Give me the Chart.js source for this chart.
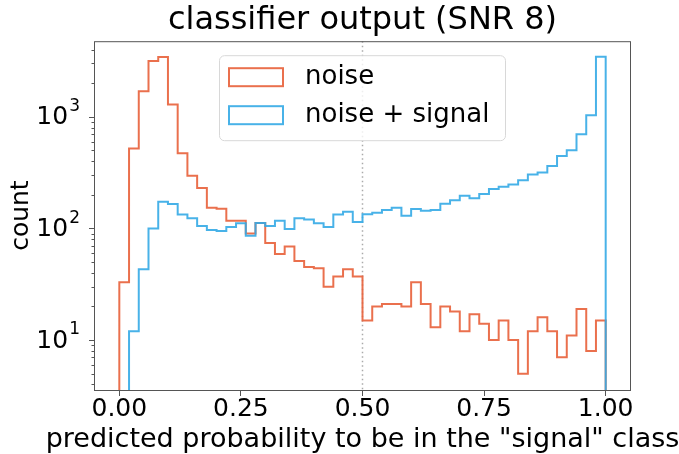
<!DOCTYPE html>
<html>
<head>
<meta charset="utf-8">
<title>classifier output (SNR 8)</title>
<script src="https://cdn.jsdelivr.net/npm/chart.js@4.4.1/dist/chart.umd.min.js"></script>
<style>
  body { margin: 0; background: #fff; }
  canvas { display: block; }
</style>
</head>
<body>
<canvas id="histChart" width="679" height="454"></canvas>
<script>
// bin edges of the histogram (50 bins)
const binEdges = [
    0.00, 0.02, 0.04, 0.06, 0.08, 0.10, 0.12, 0.14, 0.16, 0.18,
    0.20, 0.22, 0.24, 0.26, 0.28, 0.30, 0.32, 0.34, 0.36, 0.38,
    0.40, 0.42, 0.44, 0.46, 0.48, 0.50, 0.52, 0.54, 0.56, 0.58,
    0.60, 0.62, 0.64, 0.66, 0.68, 0.70, 0.72, 0.74, 0.76, 0.78,
    0.80, 0.82, 0.84, 0.86, 0.88, 0.90, 0.92, 0.94, 0.96, 0.98,
    1.00
];

// counts per bin
const noiseCounts = [
    33, 520, 1690, 3160, 3430, 1290, 470, 296, 230, 153,
    150, 117, 117, 90, 112, 74, 59, 69, 51, 45,
    44, 30, 37, 43, 37, 15, 20, 21, 21, 20,
    33, 21, 13, 20, 18, 12, 17, 14, 10, 15,
    10, 5, 12, 16, 12, 7, 11, 19, 8, 15
];
const signalCounts = [
    0, 12, 43, 100, 173, 165, 133, 123, 105, 97,
    95, 103, 111, 86, 112, 105, 117, 99, 123, 120,
    111, 103, 133, 141, 114, 134, 138, 146, 153, 130,
    149, 144, 146, 166, 179, 196, 186, 203, 225, 236,
    247, 270, 304, 317, 363, 446, 502, 698, 1033, 3450
];

const seriesLabels = ['noise', 'noise + signal'];
const xTicks = [0, 0.25, 0.5, 0.75, 1.0];
const yMajorTicks = [10, 100, 1000];
const thresholdX = 0.5;
const xLabel = 'predicted probability to be in the "signal" class';

const FLOOR = 1; // below the axis, used for the step outline's ends
const FONT = 'DejaVu Sans';
const ORANGE = 'rgba(232, 96, 58, 0.9)';
const BLUE = 'rgba(52, 170, 230, 0.9)';

// outline of a step histogram: up at the first edge, across each bin, down at the last edge
function stepPoints(counts) {
    const pts = [{ x: binEdges[0], y: FLOOR }];
    counts.forEach((c, i) => pts.push({ x: binEdges[i], y: c > 0 ? c : FLOOR }));
    pts.push({ x: binEdges[binEdges.length - 1], y: FLOOR });
    return pts;
}

const decorPlugin = {
    id: 'decor',
    beforeDatasetsDraw(chart) {
        const { ctx, chartArea: ca, scales: { x } } = chart;
        const px = x.getPixelForValue(thresholdX);
        ctx.save();
        ctx.strokeStyle = '#aaaaaa';
        ctx.lineWidth = 1.5;
        ctx.setLineDash([1.5, 3]);
        ctx.beginPath();
        ctx.moveTo(px, ca.top);
        ctx.lineTo(px, ca.bottom);
        ctx.stroke();
        ctx.restore();
    },
    afterDatasetsDraw(chart) {
        const { ctx, chartArea: ca, scales: { y } } = chart;
        ctx.save();

        // spines
        ctx.strokeStyle = '#555';
        ctx.lineWidth = 1;
        ctx.strokeRect(ca.left - 0.5, ca.top + 0.5, ca.right - ca.left + 1, ca.bottom - ca.top);

        // y tick marks (major + minor) and labels
        for (let e = 0; e <= 3; e++) {
            for (let m = 1; m <= 9; m++) {
                const v = m * Math.pow(10, e);
                if (v < y.min || v > y.max) continue;
                const py = Math.round(y.getPixelForValue(v)) + 0.5;
                const len = m === 1 ? 6 : 3.5;
                ctx.beginPath();
                ctx.moveTo(ca.left - len, py);
                ctx.lineTo(ca.left, py);
                ctx.stroke();
            }
        }
        ctx.fillStyle = '#000';
        ctx.textBaseline = 'middle';
        yMajorTicks.forEach(v => {
            const py = y.getPixelForValue(v);
            const exp = String(Math.round(Math.log10(v)));
            ctx.font = '17px ' + FONT;
            const ew = ctx.measureText(exp).width;
            ctx.textAlign = 'right';
            const right = ca.left - 15;
            ctx.fillText(exp, right, py - 10);
            ctx.font = '25px ' + FONT;
            ctx.fillText('10', right - ew - 1, py + 1);
        });

        // x axis label, centred under the axes (it is wider than them)
        ctx.font = '27px ' + FONT;
        ctx.textAlign = 'center';
        ctx.textBaseline = 'middle';
        ctx.fillText(xLabel, (ca.left + ca.right) / 2, ca.bottom + 50);

        // legend
        const lx = ca.left + 124, ly = ca.top + 14, lw = 286, lh = 85;
        ctx.fillStyle = 'rgba(255,255,255,0.8)';
        ctx.strokeStyle = '#d8d8d8';
        ctx.lineWidth = 1;
        ctx.beginPath();
        ctx.roundRect(lx + 0.5, ly + 0.5, lw, lh, 5);
        ctx.fill();
        ctx.stroke();
        const colors = [ORANGE, BLUE];
        seriesLabels.forEach((label, i) => {
            const cy = ly + 22 + i * 38;
            ctx.strokeStyle = colors[i];
            ctx.lineWidth = 2;
            ctx.strokeRect(lx + 10, cy - 9, 54, 18);
            ctx.fillStyle = '#000';
            ctx.font = '26px ' + FONT;
            ctx.textAlign = 'left';
            ctx.textBaseline = 'middle';
            ctx.fillText(label, lx + 86, cy);
        });
        ctx.restore();
    }
};

const ctx = document.getElementById('histChart').getContext('2d');
window.histChart = new Chart(ctx, {
    type: 'line',
    data: {
        datasets: [{
            label: seriesLabels[0],
            data: stepPoints(noiseCounts),
            borderColor: ORANGE,
            backgroundColor: 'rgba(0,0,0,0)',
            borderWidth: 2,
            stepped: true,
            pointRadius: 0,
            fill: false,
            order: 1
        }, {
            label: seriesLabels[1],
            data: stepPoints(signalCounts),
            borderColor: BLUE,
            backgroundColor: 'rgba(0,0,0,0)',
            borderWidth: 2,
            stepped: true,
            pointRadius: 0,
            fill: false,
            order: 0
        }]
    },
    options: {
        responsive: false,
        animation: false,
        devicePixelRatio: 1,
        layout: { padding: { top: 0, left: 0, right: 49, bottom: 0 } },
        plugins: {
            legend: { display: false },
            tooltip: { enabled: false },
            title: {
                display: true,
                text: 'classifier output (SNR 8)',
                fullSize: false,
                color: '#000',
                font: { family: FONT, size: 32, weight: 'normal', lineHeight: 1.1 },
                padding: { top: 3, bottom: 3 }
            }
        },
        scales: {
            x: {
                type: 'linear',
                min: -0.05,
                max: 1.05,
                afterBuildTicks: scale => { scale.ticks = xTicks.map(v => ({ value: v })); },
                afterFit: scale => { scale.height = 64; },
                border: { display: false },
                grid: { drawOnChartArea: false, drawTicks: true, tickLength: 6, color: '#555' },
                ticks: {
                    color: '#000',
                    font: { family: FONT, size: 25 },
                    padding: -2,
                    maxRotation: 0,
                    autoSkip: false,
                    callback: v => Number(v).toFixed(2)
                },
                title: { display: false }
            },
            y: {
                type: 'logarithmic',
                min: 3.57,
                max: 4750,
                afterFit: scale => { scale.width = 95; },
                border: { display: false },
                grid: { display: false },
                ticks: { display: false },
                title: {
                    display: true,
                    text: 'count',
                    color: '#000',
                    font: { family: FONT, size: 25, lineHeight: 1.2 },
                    padding: { top: 6, bottom: 0 }
                }
            }
        }
    },
    plugins: [decorPlugin]
});
</script>
</body>
</html>
